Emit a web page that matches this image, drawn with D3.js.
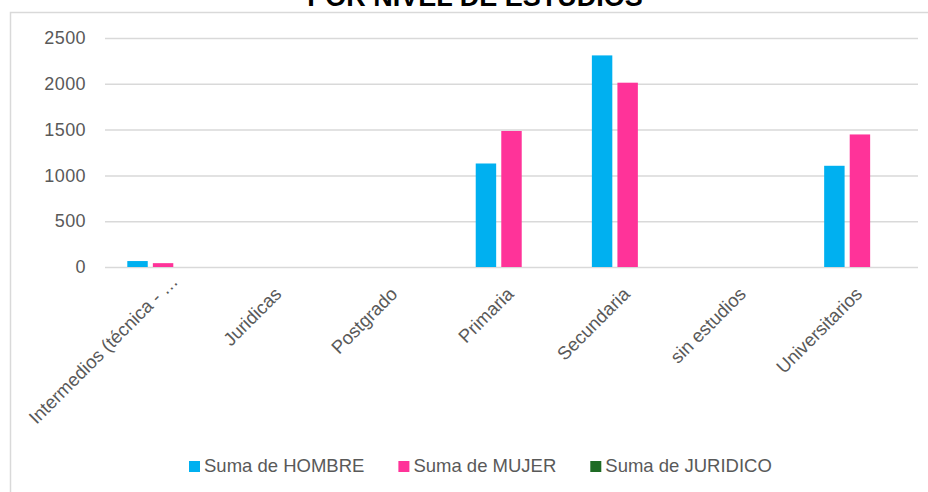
<!DOCTYPE html>
<html>
<head>
<meta charset="utf-8">
<script src="https://cdn.jsdelivr.net/npm/d3@7"></script>
<style>
  body { margin: 0; background: #fff; }
  svg { display: block; font-family: "Liberation Sans", Arial, sans-serif; }
</style>
</head>
<body>
<div id="chart"></div>
<script>
var categories = ["Intermedios (técnica - …", "Juridicas", "Postgrado", "Primaria", "Secundaria", "sin estudios", "Universitarios"];
var seriesNames = ["Suma de HOMBRE", "Suma de MUJER", "Suma de JURIDICO"];
var hombre = [65, 0, 0, 1130, 2310, 0, 1105];
var mujer = [42, 0, 0, 1485, 2012, 0, 1447];
var juridico = [0, 0, 0, 0, 0, 0, 0];
var yTicks = [0, 500, 1000, 1500, 2000, 2500];
var colors = ["#00B0F0", "#FF3399", "#1E6B24"];

var width = 928, height = 492;

var svg = d3.select("#chart").append("svg")
  .attr("width", width)
  .attr("height", height);

// chart frame
svg.append("rect")
  .attr("x", 10.5).attr("y", 12.5)
  .attr("width", 940).attr("height", 500)
  .attr("fill", "none")
  .attr("stroke", "#d9d9d9")
  .attr("stroke-width", 1.5);

svg.append("text")
  .attr("x", 475).attr("y", 6)
  .attr("text-anchor", "middle")
  .attr("font-size", 27)
  .attr("font-weight", "bold")
  .attr("fill", "#000")
  .text("POR NIVEL DE ESTUDIOS");

var x0 = d3.scaleBand()
  .domain(categories)
  .range([105, 918])
  .paddingInner(0.384)
  .paddingOuter(0.192);

var x1 = d3.scaleBand()
  .domain(seriesNames)
  .range([0, x0.bandwidth()])
  .paddingInner(0.2);

var y = d3.scaleLinear()
  .domain([0, 2500])
  .range([267, 38]);

var yaxis = d3.axisLeft(y).tickValues(yTicks).tickFormat(d3.format("d"))
  .tickSize(-(918 - 105)).tickPadding(19);
var gy = svg.append("g").attr("transform", "translate(105,0)").call(yaxis);
gy.select(".domain").remove();
gy.selectAll(".tick line").attr("stroke", "#d9d9d9").attr("stroke-width", 1.5);
gy.selectAll(".tick text")
  .attr("fill", "#595959")
  .attr("font-size", 18)
  .attr("letter-spacing", 0.4)
  .attr("font-family", "Liberation Sans, Arial, sans-serif");

var rows = categories.map(function(c, i) {
  return {cat: c, values: [hombre[i], mujer[i], juridico[i]]};
});

var groups = svg.selectAll("g.grp").data(rows).enter().append("g")
  .attr("class", "grp")
  .attr("transform", function(d) { return "translate(" + x0(d.cat) + ",0)"; });

groups.selectAll("rect").data(function(d) {
    return d.values.map(function(v, j) { return {s: seriesNames[j], v: v, j: j}; });
  })
  .enter().append("rect")
  .attr("x", function(d) { return x1(d.s); })
  .attr("y", function(d) { return y(d.v); })
  .attr("width", x1.bandwidth())
  .attr("height", function(d) { return y(0) - y(d.v); })
  .attr("fill", function(d) { return colors[d.j]; });

// x labels (truncated label sits a bit further along its direction)
svg.append("g").selectAll("text").data(categories).enter().append("text")
  .attr("transform", function(d) {
    return "translate(" + (x0(d) + x0.bandwidth() / 2 - 6) + ",286) rotate(-45)";
  })
  .attr("text-anchor", "end")
  .attr("dx", function(d) { return d.slice(-1) === "…" ? 18 : 0; })
  .attr("dy", "0.71em")
  .attr("font-size", 18.5)
  .attr("fill", "#595959")
  .text(function(d) { return d; });

// legend
var legend = svg.append("g");
var items = legend.selectAll("g").data(seriesNames).enter().append("g");
items.append("rect")
  .attr("width", 11).attr("height", 11)
  .attr("y", 461)
  .attr("fill", function(d, i) { return colors[i]; });
items.append("text")
  .attr("x", 15).attr("y", 472)
  .attr("font-size", 18.5)
  .attr("fill", "#595959")
  .text(function(d) { return d; });

var pos = 189;
items.each(function() {
  var w = this.getBBox().width;
  d3.select(this).attr("transform", "translate(" + pos + ",0)");
  pos += w + 34;
});
</script>
</body>
</html>
